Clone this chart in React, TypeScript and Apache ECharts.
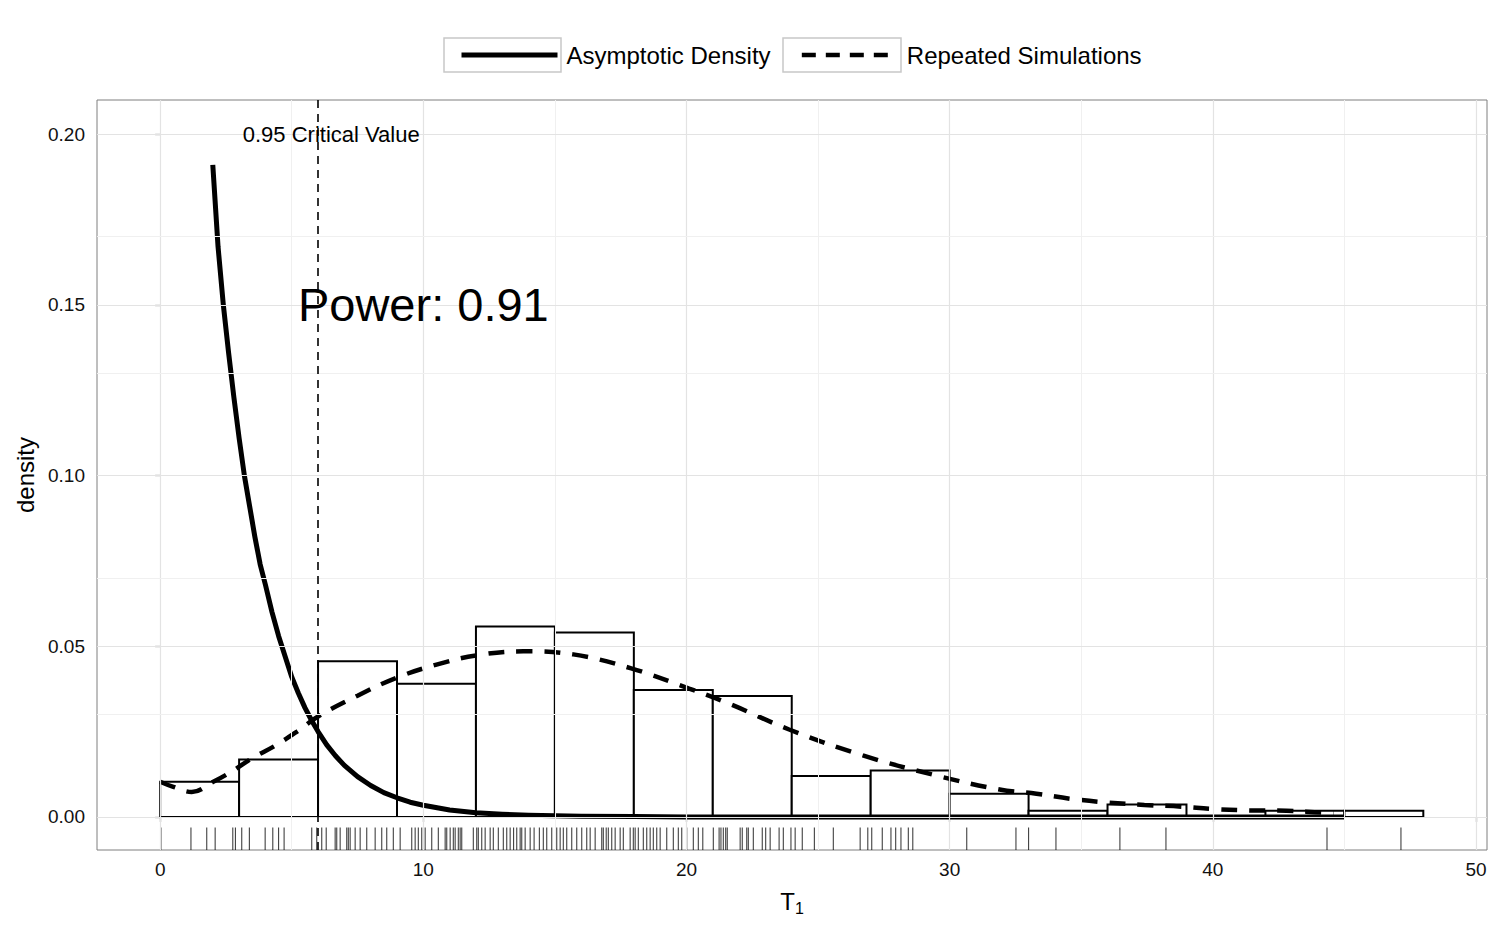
import React, { useEffect, useRef } from "react";
import * as echarts from "echarts";

const FONT = "'Liberation Sans', Arial, Helvetica, sans-serif";

// Histogram (bin width 3, density)
const binStarts = [0, 3, 6, 9, 12, 15, 18, 21, 24, 27, 30, 33, 36, 39, 42, 45];
const binWidth = 3;
const histDensity = [0.0103, 0.0168, 0.0456, 0.039, 0.0558, 0.054, 0.0372, 0.0354, 0.012, 0.0136, 0.0068, 0.0018, 0.0036, 0, 0.0018, 0.0018];

// Asymptotic density curve (solid)
const asymX = [2, 2.2, 2.4, 2.6, 2.8, 3, 3.2, 3.4, 3.6, 3.8, 4, 4.25, 4.5, 4.75, 5, 5.25, 5.5, 5.75, 6, 6.33, 6.66, 7, 7.5, 8, 8.5, 9, 9.5, 10, 11, 12, 13, 14, 16, 18, 20, 25, 30, 35, 40, 45];
const asymY = [0.191, 0.167, 0.15, 0.136, 0.123, 0.111, 0.1, 0.091, 0.082, 0.074, 0.068, 0.06, 0.053, 0.047, 0.041, 0.0363, 0.032, 0.0283, 0.025, 0.0211, 0.0179, 0.0151, 0.0118, 0.0092, 0.0071, 0.0056, 0.0043, 0.0034, 0.002, 0.0012, 0.0008, 0.0005, 0.0002, 0.0001, 0, 0, 0, 0, 0, 0];

// Repeated simulations density (dashed)
const simX = [0, 0.5, 1.2, 2, 2.7, 3.5, 4.4, 5.2, 6, 7.5, 9, 10.5, 12, 13.8, 15.7, 17.9, 20.1, 21.7, 23.9, 26.7, 29.4, 31.9, 33.3, 34.6, 36, 37.4, 38.8, 40, 41.4, 42.8, 44.1, 44.6];
const simY = [0.0103, 0.0088, 0.0073, 0.0102, 0.0132, 0.0172, 0.021, 0.025, 0.0294, 0.0355, 0.0408, 0.0446, 0.0473, 0.0485, 0.0476, 0.0435, 0.0376, 0.0329, 0.0256, 0.018, 0.0123, 0.008, 0.0068, 0.0053, 0.0042, 0.0035, 0.003, 0.0023, 0.0019, 0.0018, 0.0013, 0.0012];

// Rug of simulated statistics
const rugX = [
  0.03, 1.17, 1.77, 2.09, 2.76, 2.86, 3.1, 3.39, 3.99, 4.28, 4.5, 4.71, 5.76, 5.95, 6.14, 6.31, 6.65,
  6.71, 6.84, 7.09, 7.15, 7.22, 7.41, 7.6, 7.85, 8.17, 8.42, 8.61, 8.86, 9.12, 9.56, 9.69, 9.81, 9.94,
  10.07, 10.32, 10.57, 10.83, 10.89, 11.02, 11.14, 11.21, 11.33, 11.4, 11.46, 11.9, 12.03, 12.09, 12.22,
  12.35, 12.54, 12.66, 12.85, 13.04, 13.17, 13.3, 13.43, 13.55, 13.68, 13.74, 13.87, 14.06, 14.21, 14.41,
  14.56, 14.69, 14.88, 15.07, 15.2, 15.32, 15.45, 15.64, 15.83, 16.02, 16.21, 16.34, 16.53, 16.78, 16.84,
  16.95, 17.03, 17.16, 17.29, 17.48, 17.6, 17.86, 17.98, 18.05, 18.17, 18.36, 18.49, 18.62, 18.74, 18.87,
  19.0, 19.25, 19.5, 19.69, 19.82, 20.01, 20.26, 20.45, 20.62, 21.02, 21.24, 21.31, 21.4, 21.49, 21.55,
  22.04, 22.12, 22.29, 22.35, 22.54, 22.88, 23.01, 23.18, 23.52, 23.68, 23.97, 24.13, 24.4, 24.86, 25.58,
  26.6, 26.89, 27.04, 27.44, 27.77, 27.95, 28.15, 28.43, 28.6, 30.65, 32.52, 33.0, 34.04, 36.47, 38.22,
  44.34, 47.15,
];

const critVal = 5.99;
const annotations = [
  { text: "0.95 Critical Value", x: 6.5, y: 0.2, size: 22 },
  { text: "Power: 0.91", x: 10, y: 0.15, size: 47 },
];

const xTicks = [0, 10, 20, 30, 40, 50];
const xMinor = [5, 15, 25, 35, 45];
const yTicks = [0, 0.05, 0.1, 0.15, 0.2];
const yMinor = [0.025, 0.075, 0.125, 0.175];

const X_MIN = -2.4;
const X_MAX = 50.42;
const Y_MIN = -0.0097;
const Y_MAX = 0.21;
const RUG_TOP = Y_MIN + 0.0066;

export default function App() {
  const ref = useRef<HTMLDivElement>(null);

  useEffect(() => {
    if (!ref.current) return;
    const chart = echarts.init(ref.current, null, { renderer: "svg" });

    const major = { color: "#e3e3e3", width: 1.2, type: "solid" };
    const minor = { color: "#f0f0f0", width: 1, type: "solid" };
    const gridLines = [
      ...xTicks.map((v) => ({ xAxis: v, lineStyle: major })),
      ...xMinor.map((v) => ({ xAxis: v, lineStyle: minor })),
      ...yTicks.map((v) => ({ yAxis: v, lineStyle: major })),
      ...yMinor.map((v) => ({ yAxis: v, lineStyle: minor })),
    ];

    const option: any = {
      animation: false,
      backgroundColor: "#ffffff",
      textStyle: { fontFamily: FONT },
      grid: {
        left: 97,
        right: 13,
        top: 100,
        bottom: 75,
        show: true,
        borderColor: "#7f7f7f",
        borderWidth: 1,
        backgroundColor: "transparent",
      },
      legend: {
        data: [
          {
            name: "Asymptotic Density",
            itemStyle: { opacity: 0 },
            lineStyle: { width: 5, type: "solid", color: "#000" },
          },
          {
            name: "Repeated Simulations",
            itemStyle: { opacity: 0 },
            lineStyle: { width: 4.5, type: [14, 10], color: "#000" },
          },
        ],
        left: 454,
        top: 38,
        itemWidth: 96,
        itemHeight: 20,
        itemGap: 29,
        selectedMode: false,
        itemStyle: { opacity: 0 },
        textStyle: { fontSize: 24, color: "#000", fontFamily: FONT, padding: [0, 0, 0, 4] },
      },
      graphic: [
        {
          type: "rect",
          shape: { x: 444, y: 38, width: 117, height: 34 },
          style: { fill: "none", stroke: "#c8c8c8", lineWidth: 1.5 },
          silent: true,
        },
        {
          type: "rect",
          shape: { x: 783, y: 38, width: 118, height: 34 },
          style: { fill: "none", stroke: "#c8c8c8", lineWidth: 1.5 },
          silent: true,
        },
      ],
      xAxis: {
        type: "value",
        min: X_MIN,
        max: X_MAX,
        name: "{t|T}{s|1}",
        nameLocation: "middle",
        nameGap: 36,
        nameTextStyle: {
          rich: {
            t: { fontSize: 24, color: "#000", fontFamily: FONT },
            s: { fontSize: 16, color: "#000", fontFamily: FONT, padding: [14, 0, 0, 0] },
          },
        },
        axisLine: { show: false },
        axisTick: { show: true, length: 5, customValues: xTicks, lineStyle: { color: "#333", width: 1.2 } },
        axisLabel: {
          customValues: xTicks,
          fontSize: 19,
          color: "#111",
          margin: 10,
          fontFamily: FONT,
          formatter: (v: number) => String(v),
        },
        splitLine: { show: false },
      },
      yAxis: {
        type: "value",
        min: Y_MIN,
        max: Y_MAX,
        name: "density",
        nameLocation: "middle",
        nameGap: 58,
        nameRotate: 90,
        nameTextStyle: { fontSize: 24, color: "#000", fontFamily: FONT },
        axisLine: { show: false },
        axisTick: { show: true, length: 5, customValues: yTicks, lineStyle: { color: "#333", width: 1.2 } },
        axisLabel: {
          customValues: yTicks,
          fontSize: 19,
          color: "#111",
          margin: 12,
          fontFamily: FONT,
          formatter: (v: number) => v.toFixed(2),
        },
        splitLine: { show: false },
      },
      series: [
        {
          name: "grid",
          type: "line",
          data: [],
          z: 0,
          silent: true,
          markLine: {
            silent: true,
            symbol: ["none", "none"],
            label: { show: false },
            data: gridLines,
          },
        },
        {
          name: "hist",
          type: "custom",
          z: 2,
          silent: true,
          data: binStarts.map((s, i) => [s, s + binWidth, histDensity[i]]),
          encode: { x: [0, 1], y: 2 },
          renderItem: (params: any, api: any) => {
            const p0 = api.coord([api.value(0), api.value(2)]);
            const p1 = api.coord([api.value(1), 0]);
            return {
              type: "rect",
              shape: { x: p0[0], y: p0[1], width: p1[0] - p0[0], height: p1[1] - p0[1] },
              style: { fill: "#ffffff", stroke: "#000000", lineWidth: 2 },
            };
          },
        },
        {
          name: "rug",
          type: "custom",
          z: 2,
          silent: true,
          data: rugX.map((v) => [v]),
          encode: { x: 0 },
          renderItem: (params: any, api: any) => {
            const a = api.coord([api.value(0), Y_MIN]);
            const b = api.coord([api.value(0), RUG_TOP]);
            return {
              type: "line",
              shape: { x1: a[0], y1: a[1], x2: b[0], y2: b[1] },
              style: { stroke: "rgba(0,0,0,0.75)", lineWidth: 1.1 },
            };
          },
        },
        {
          name: "Asymptotic Density",
          type: "line",
          z: 3,
          symbol: "none",
          smooth: false,
          clip: false,
          data: asymX.map((x, i) => [x, asymY[i]]),
          lineStyle: { color: "#000", width: 5, join: "round" },
          itemStyle: { color: "#000" },
        },
        {
          name: "Repeated Simulations",
          type: "line",
          z: 3,
          symbol: "none",
          smooth: 0.4,
          data: simX.map((x, i) => [x, simY[i]]),
          lineStyle: { color: "#000", width: 4.5, type: [16, 12] },
          itemStyle: { color: "#000" },
        },
        {
          name: "crit",
          type: "line",
          data: [],
          z: 4,
          silent: true,
          markLine: {
            silent: true,
            symbol: ["none", "none"],
            label: { show: false },
            lineStyle: { color: "#000", width: 1.6, type: [8, 6] },
            data: [{ xAxis: critVal }],
          },
        },
        {
          name: "annotations",
          type: "custom",
          z: 5,
          silent: true,
          data: annotations.map((a) => [a.x, a.y]),
          encode: { x: 0, y: 1 },
          renderItem: (params: any, api: any) => {
            const a = annotations[params.dataIndex];
            const p = api.coord([api.value(0), api.value(1)]);
            return {
              type: "text",
              x: p[0],
              y: p[1],
              style: {
                text: a.text,
                fontSize: a.size,
                fontFamily: FONT,
                fill: "#000",
                align: "center",
                verticalAlign: "middle",
              },
            };
          },
        },
      ],
    };

    chart.setOption(option);
    return () => {
      chart.dispose();
    };
  }, []);

  return (
    <div
      ref={ref}
      style={{ position: "fixed", left: 0, top: 0, width: 1500, height: 925, background: "#fff" }}
    />
  );
}
